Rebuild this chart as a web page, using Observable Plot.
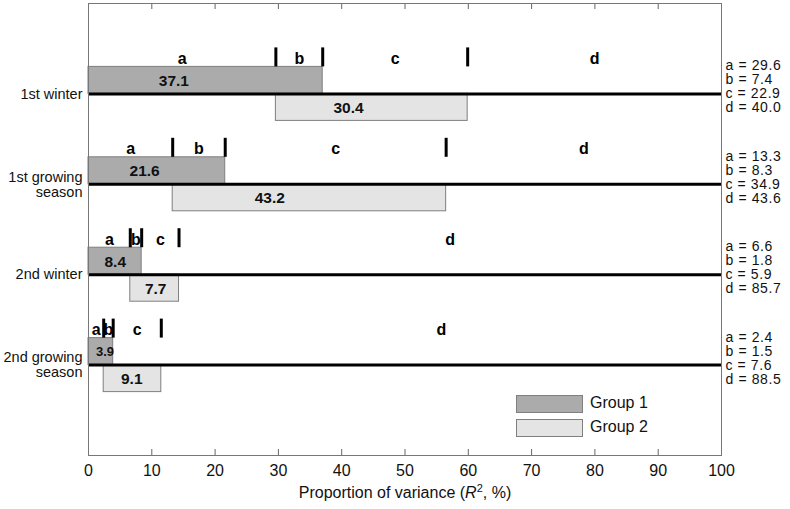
<!DOCTYPE html>
<html>
<head>
<meta charset="utf-8">
<script src="https://cdn.jsdelivr.net/npm/d3@7"></script>
<script src="https://cdn.jsdelivr.net/npm/@observablehq/plot@0.6"></script>
<style>
  html, body { margin: 0; padding: 0; background: #fff; }
  #wrap { position: relative; width: 790px; height: 509px; font-family: "Liberation Sans", Arial, sans-serif; }
  .sw { position: absolute; width: 65px; height: 16px; border: 1px solid #7f7f7f; box-sizing: content-box; }
  .lt { position: absolute; font-size: 16px; color: #111; line-height: 18px; }
</style>
</head>
<body>
<div id="wrap"></div>
<script>
// ---- data ----
const periods = ["1st winter", "1st growing\nseason", "2nd winter", "2nd growing\nseason"];
const a = [29.6, 13.3, 6.6, 2.4];
const b = [7.4, 8.3, 1.8, 1.5];
const c = [22.9, 34.9, 5.9, 7.6];
const d = [40.0, 43.6, 85.7, 88.5];
const group1Labels = [37.1, 21.6, 8.4, 3.9];
const group2Labels = [30.4, 43.2, 7.7, 9.1];
const xTicks = [0, 10, 20, 30, 40, 50, 60, 70, 80, 90, 100];
const letters = ["a", "b", "c", "d"];
const groupNames = ["Group 1", "Group 2"];

// ---- layout ----
const W = 790, H = 509, mL = 88, mR = 69, mT = 3, mB = 54;
const pu = (H - mT - mB) / 5; // pixels per row unit
const barH = 27 / pu;
const c1 = "#ababab", c2 = "#e4e4e4", edge = "#7f7f7f";
const font = "Liberation Sans, Arial, sans-serif";

const rows = periods.map((p, i) => {
  const k1 = a[i], k2 = a[i] + b[i], k3 = a[i] + b[i] + c[i];
  return {p, i, line: i + 1, k1, k2, k3, g1: group1Labels[i], g2: group2Labels[i]};
});

const g1Bars = rows.map(r => ({line: r.line, x1: 0, x2: r.k2, label: r.g1}));
const g2Bars = rows.map(r => ({line: r.line, x1: r.k1, x2: r.k3, label: r.g2}));

const cuts = rows.flatMap(r => [r.k1, r.k2, r.k3].map(k => ({line: r.line, x: k})));
const letterPos = rows.flatMap(r => {
  const bounds = [0, r.k1, r.k2, r.k3, 100];
  return letters.map((L, j) => ({line: r.line, x: (bounds[j] + bounds[j + 1]) / 2, L}));
});
const annot = rows.flatMap(r => {
  const vals = [a[r.i], b[r.i], c[r.i], d[r.i]];
  return letters.map((L, j) => ({line: r.line, j, t: `${L} = ${vals[j].toFixed(1)}`}));
});
const innerTicks = xTicks.slice(1, -1);
const pxW = v => v * (W - mL - mR) / 100;

const chart = Plot.plot({
  width: W, height: H,
  marginLeft: mL, marginRight: mR, marginTop: mT, marginBottom: mB,
  style: {fontFamily: font, background: "white", color: "#111"},
  x: {domain: [0, 100], ticks: xTicks},
  y: {domain: [0, 5], reverse: true, axis: null},
  marks: [
    // inward ticks top and bottom
    Plot.ruleX(innerTicks, {x: v => v, y1: 0, y2: 6 / pu, stroke: "#666"}),
    Plot.ruleX(innerTicks, {x: v => v, y1: 5, y2: 5 - 6 / pu, stroke: "#666"}),
    Plot.axisX({anchor: "bottom", ticks: xTicks, tickSize: 0, tickPadding: 9, fontSize: 16, label: null, tickFormat: d3.format("d")}),
    // bars
    Plot.rect(g1Bars, {x1: "x1", x2: "x2", y1: r => r.line - barH, y2: r => r.line, fill: c1, stroke: edge, strokeWidth: 1}),
    Plot.rect(g2Bars, {x1: "x1", x2: "x2", y1: r => r.line, y2: r => r.line + barH, fill: c2, stroke: edge, strokeWidth: 1}),
    // thick row lines
    Plot.ruleY(rows, {y: "line", x1: 0, x2: 100, stroke: "black", strokeWidth: 3}),
    // partition tick marks
    Plot.ruleX(cuts, {x: "x", y1: r => r.line - 46 / pu, y2: r => r.line - barH, stroke: "black", strokeWidth: 3}),
    // letters
    Plot.text(letterPos, {x: "x", y: "line", dy: -35, text: "L", fontWeight: "bold", fontSize: 16, fill: "black"}),
    // bar labels
    Plot.text(g1Bars, {x: r => r.x1 + 0.3 * (r.x2 - r.x1), y: "line", dy: -13, text: r => r.label.toFixed(1),
      textAnchor: "start", fontWeight: "bold", fontSize: r => pxW(r.x2 - r.x1) < 35 ? 13 : 15.5, fill: "#111"}),
    Plot.text(g2Bars, {x: r => r.x1 + 0.3 * (r.x2 - r.x1), y: "line", dy: 14, text: r => r.label.toFixed(1),
      textAnchor: "start", fontWeight: "bold", fontSize: r => pxW(r.x2 - r.x1) < 35 ? 13 : 15.5, fill: "#111"}),
    // row labels
    Plot.text(rows, {x: 0, y: "line", dx: -6, text: "p", textAnchor: "end", fontSize: 14.5, lineHeight: 1.03, fill: "#111"}),
    // right annotations (4 lines per row, 14px apart, third line on the row line)
    Plot.text(annot, {x: 100, y: r => r.line + (r.j - 2) * 14 / pu, dx: 4, text: "t", textAnchor: "start", fontSize: 14, fill: "#111", className: "annot"}),
    // frame
    Plot.frame({stroke: "#777"}),
    // axis title
    Plot.text(["Proportion of variance (R2, %)"], {frameAnchor: "bottom", dy: 42, fontSize: 16, fill: "#111", className: "xtitle"})
  ]
});

d3.select(chart).selectAll(".annot text").attr("letter-spacing", "0.6px");

// rich text for axis title
const t = d3.select(chart).select(".xtitle text");
t.text(null);
t.append("tspan").text("Proportion of variance (");
t.append("tspan").attr("font-style", "italic").text("R");
t.append("tspan").attr("baseline-shift", "super").attr("font-size", "11px").text("2");
t.append("tspan").text(", %)");

const wrap = document.getElementById("wrap");
wrap.appendChild(chart);

// legend (inside plot area, bottom right)
const legendTop = [395, 419];
groupNames.forEach((g, k) => {
  const sw = document.createElement("div");
  sw.className = "sw";
  sw.style.left = "516px";
  sw.style.top = legendTop[k] + "px";
  sw.style.background = k === 0 ? c1 : c2;
  wrap.appendChild(sw);
  const lt = document.createElement("div");
  lt.className = "lt";
  lt.style.left = "590px";
  lt.style.top = (legendTop[k] - 1) + "px";
  lt.textContent = g;
  wrap.appendChild(lt);
});
</script>
</body>
</html>
